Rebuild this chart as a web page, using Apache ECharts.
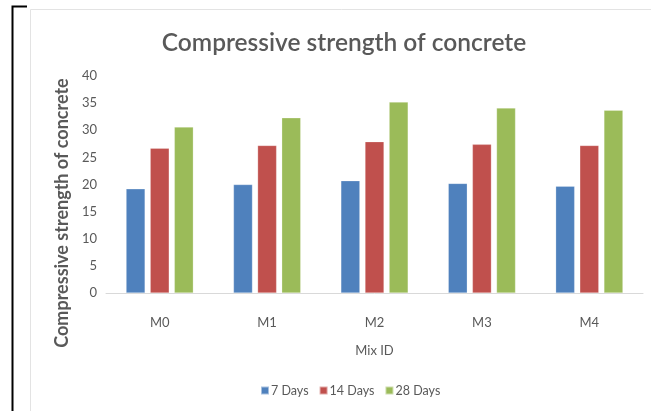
<!DOCTYPE html>
<html><head><meta charset="utf-8">
<script src="https://cdn.jsdelivr.net/npm/echarts@6/dist/echarts.min.js"></script>
<style>html,body{margin:0;padding:0;background:#fff}#c{width:651px;height:411px}</style>
</head><body><div id="c"></div>
<script>
const categories = ['M0','M1','M2','M3','M4'];
const days7 = [19.2, 20.0, 20.7, 20.2, 19.7];
const days14 = [26.7, 27.2, 27.9, 27.4, 27.2];
const days28 = [30.6, 32.3, 35.2, 34.1, 33.7];
const seriesNames = ['7 Days','14 Days','28 Days'];
const yTitle = 'Compressive strength of concrete';
const colors = ['#4F81BD','#C0504D','#9BBB59'];
const font = 'Lato';
const chart = echarts.init(document.getElementById('c'));
const mk = (name, data, color) => ({
  name, type: 'bar', data, barWidth: 19, barGap: '27%',
  itemStyle: { color, borderColor: 'rgba(255,255,255,0.5)', borderWidth: 0.5 }
});
chart.setOption({
  animation: false,
  graphic: [
    { type: 'rect', shape: { x: 30.5, y: 9.5, width: 640, height: 420 }, style: { fill: 'none', stroke: '#e3e3e3', lineWidth: 1 } },
    { type: 'polyline', shape: { points: [[27, 6.5], [12.5, 6.5], [12.5, 411]] }, style: { fill: 'none', stroke: '#000', lineWidth: 2 } },
    { type: 'text', x: 62, y: 213, rotation: Math.PI / 2,
      style: { text: yTitle, fontFamily: font, fontSize: 18, fontWeight: 'bold', fill: '#595959', align: 'center', verticalAlign: 'middle' } }
  ],
  title: { text: 'Compressive strength of concrete', left: 339, textAlign: 'center', top: 26,
    textStyle: { fontFamily: font, fontSize: 24.5, fontWeight: 600, color: '#595959' } },
  legend: { data: seriesNames, bottom: 9, left: 255, itemWidth: 8, itemHeight: 8, itemGap: 10,
    icon: 'rect', textStyle: { fontFamily: font, fontSize: 12.5, color: '#595959', padding: [0, 0, 0, -3] } },
  grid: { left: 106, right: 8, top: 76, bottom: 118 },
  xAxis: { type: 'category', data: categories, name: 'Mix ID', nameLocation: 'middle', nameGap: 51, nameMoveOverlap: false,
    nameTextStyle: { fontFamily: font, fontSize: 13, color: '#595959' },
    axisLine: { lineStyle: { color: '#d9d9d9' } }, axisTick: { show: false },
    axisLabel: { fontFamily: font, fontSize: 13, color: '#595959', margin: 23 } },
  yAxis: { type: 'value', min: 0, max: 40, interval: 5,
    splitLine: { show: false }, axisLine: { show: false }, axisTick: { show: false },
    axisLabel: { fontFamily: font, fontSize: 13, color: '#595959', margin: 9 } },
  series: [mk(seriesNames[0], days7, colors[0]), mk(seriesNames[1], days14, colors[1]), mk(seriesNames[2], days28, colors[2])]
});
</script></body></html>
